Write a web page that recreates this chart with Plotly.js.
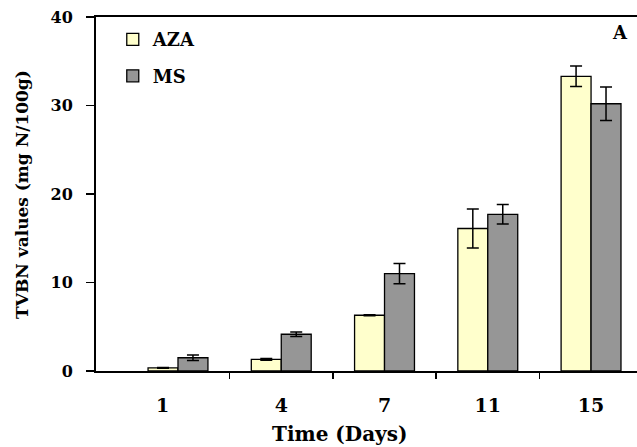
<!DOCTYPE html>
<html>
<head>
<meta charset="utf-8">
<script src="https://cdn.plot.ly/plotly-3.0.1.min.js"></script>
<style>html,body{margin:0;padding:0;background:#fff;}#chart{width:637px;height:447px;}</style>
</head>
<body>
<div id="chart"></div>
<script>
// Data
const days = ["1", "4", "7", "11", "15"];
const azaValues = [0.35, 1.32, 6.3, 16.1, 33.3];
const azaErrors = [0.05, 0.1, 0.05, 2.2, 1.15];
const msValues = [1.5, 4.15, 11.0, 17.7, 30.2];
const msErrors = [0.3, 0.25, 1.15, 1.1, 1.9];
const seriesNames = ["AZA", "MS"];

const FONT = "DejaVu Serif";
const idx = days.map((d, i) => i);
const labelPos = idx.map(i => (i === 0 ? i - 0.15 : i));
const separators = idx.slice(1).map(i => i - 0.5);

const traces = [
  {
    type: "bar", name: seriesNames[0], x: idx, y: azaValues, legendgroup: "a",
    marker: {color: "#FFFFCC", line: {color: "#000", width: 1.3}},
    error_y: {type: "data", array: azaErrors, visible: true, color: "#000", thickness: 1.5, width: 6}
  },
  {
    type: "bar", name: seriesNames[1], x: idx, y: msValues, legendgroup: "b",
    marker: {color: "#969696", line: {color: "#000", width: 1.3}},
    error_y: {type: "data", array: msErrors, visible: true, color: "#000", thickness: 1.5, width: 6}
  }
];

const layout = {
  width: 637, height: 447,
  margin: {l: 96, r: 0, t: 17, b: 76},
  paper_bgcolor: "#fff", plot_bgcolor: "#fff",
  barmode: "group", bargap: 0.42, bargroupgap: 0,
  font: {family: FONT, color: "#000"},
  showlegend: true,
  legend: {
    x: 0.031, y: 0.988, xanchor: "left", yanchor: "top",
    bgcolor: "rgba(0,0,0,0)", borderwidth: 0,
    font: {family: FONT, size: 18, weight: "bold"},
    traceorder: "grouped", tracegroupgap: 10
  },
  xaxis: {
    type: "linear", range: [-0.794, 4.445],
    showgrid: false, zeroline: false,
    showline: true, linecolor: "#000", linewidth: 2, mirror: true,
    tickvals: labelPos, ticktext: days, ticks: "",
    ticklabelstandoff: 16,
    tickfont: {family: FONT, size: 19, weight: "bold"},
    minor: {tickvals: separators, ticks: "outside", ticklen: 6, tickwidth: 1.5, tickcolor: "#000", showgrid: false}
  },
  yaxis: {
    range: [0, 40], tickvals: [0, 10, 20, 30, 40],
    showgrid: false, zeroline: false,
    showline: true, linecolor: "#000", linewidth: 2,
    ticks: "outside", ticklen: 8, tickwidth: 1.5, tickcolor: "#000",
    ticklabelstandoff: 10,
    tickfont: {family: FONT, size: 16, weight: "bold"}
  },
  annotations: [
    {text: "Time (Days)", xref: "paper", yref: "paper", x: 0.451, y: -0.178,
     xanchor: "center", yanchor: "middle", showarrow: false,
     font: {family: FONT, size: 20, weight: "bold"}},
    {text: "TVBN values (mg N/100g)", xref: "paper", yref: "paper", x: -0.137, y: 0.5,
     textangle: -90, xanchor: "center", yanchor: "middle", showarrow: false,
     font: {family: FONT, size: 17, weight: "bold"}},
    {text: "A", xref: "paper", yref: "paper", x: 0.968, y: 0.955,
     xanchor: "center", yanchor: "middle", showarrow: false,
     font: {family: FONT, size: 18, weight: "bold"}}
  ]
};

Plotly.newPlot("chart", traces, layout, {displayModeBar: false, staticPlot: true});
</script>
</body>
</html>
